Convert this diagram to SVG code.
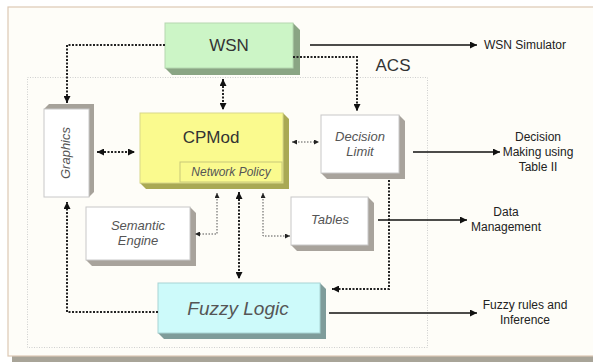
<svg xmlns="http://www.w3.org/2000/svg" width="593" height="362" viewBox="0 0 593 362">
<defs>
<marker id="ah" viewBox="0 0 10 10" refX="10" refY="5" markerWidth="9" markerHeight="7" markerUnits="userSpaceOnUse" orient="auto-start-reverse">
<path d="M0,0 L10,5 L0,10 z" fill="#111"/>
</marker>
<marker id="ahs" viewBox="0 0 10 10" refX="10" refY="5" markerWidth="7" markerHeight="5" markerUnits="userSpaceOnUse" orient="auto-start-reverse">
<path d="M0,0 L10,5 L0,10 z" fill="#222"/>
</marker>
</defs>
<style>
.t{font-family:"Liberation Sans",Arial,sans-serif;fill:#333;text-anchor:middle}
.i{font-style:italic;fill:#555}
.lab{font-family:"Liberation Sans",Arial,sans-serif;fill:#222;font-size:12px;text-anchor:middle}
.thick{fill:none;stroke:#222;stroke-width:2;stroke-dasharray:2,1.5}
.thin{fill:none;stroke:#555;stroke-width:1;stroke-dasharray:1.5,1.5}
.solid{fill:none;stroke:#111;stroke-width:1.6}
</style>
<rect x="0" y="0" width="593" height="362" fill="#ffffff"/>
<rect x="12" y="12" width="585" height="350" fill="#a8a498"/>
<rect x="8" y="7" width="590" height="349" fill="#fefdf8" stroke="#dcc8b4" stroke-width="1.2"/>
<rect x="27.5" y="77.5" width="400" height="270" fill="none" stroke="#cfcfcf" stroke-width="1" stroke-dasharray="1,1.5"/>
<text class="t" x="393" y="71" font-size="17">ACS</text>

<g id="wsn">
<polygon points="293,23 300,30 300,75 172,75 165,68" fill="#8aa584"/>
<rect x="165" y="23" width="128" height="45" fill="#ccf5c6" stroke="#b5d8b0" stroke-width="1"/>
<text class="t" x="229" y="51" font-size="17">WSN</text>
</g>

<g id="graphics">
<polygon points="44,109 49,104 94,104 94,192 89,197" fill="#a6a29a"/>
<rect x="44" y="109" width="45" height="88" fill="#ffffff" stroke="#c8c8c8" stroke-width="1"/>
<text class="t i" transform="translate(70,153) rotate(-90)" font-size="13">Graphics</text>
</g>

<g id="cpmod">
<polygon points="283,113 289,119 289,189 146,189 140,183" fill="#a9a954"/>
<rect x="140" y="113" width="143" height="70" fill="#fafa8e" stroke="#d8d88a" stroke-width="1"/>
<text class="t" x="211" y="143" font-size="17">CPMod</text>
<rect x="180" y="162" width="102" height="20" fill="#fafa8e" stroke="#c8c878" stroke-width="1"/>
<text class="t i" x="231" y="176" font-size="12">Network Policy</text>
</g>

<g id="decision">
<polygon points="399,115 405,121 405,179 327,179 321,173" fill="#a8a39c"/>
<rect x="321" y="115" width="78" height="58" fill="#ffffff" stroke="#c8c8c8" stroke-width="1"/>
<text class="t i" x="360" y="141" font-size="13">Decision</text>
<text class="t i" x="360" y="156" font-size="13">Limit</text>
</g>

<g id="tables">
<polygon points="368,197 374,203 374,251 297,251 291,245" fill="#a8a39c"/>
<rect x="291" y="197" width="77" height="48" fill="#ffffff" stroke="#c8c8c8" stroke-width="1"/>
<text class="t i" x="330" y="224" font-size="13">Tables</text>
</g>

<g id="semantic">
<polygon points="190,207 196,213 196,266 92,266 86,260" fill="#a8a39c"/>
<rect x="86" y="207" width="104" height="53" fill="#ffffff" stroke="#c8c8c8" stroke-width="1"/>
<text class="t i" x="138" y="230" font-size="13">Semantic</text>
<text class="t i" x="138" y="245" font-size="13">Engine</text>
</g>

<g id="fuzzy">
<polygon points="320,283 326,289 326,339 164,339 158,333" fill="#7f9c9a"/>
<rect x="158" y="283" width="162" height="50" fill="#cdfafa" stroke="#a8d4d4" stroke-width="1"/>
<text class="t i" x="238" y="315" font-size="19">Fuzzy Logic</text>
</g>

<g id="connectors">
<path class="thick" d="M165,45 H67 V103" marker-end="url(#ah)"/>
<path class="thick" d="M223,79 V110" marker-start="url(#ah)" marker-end="url(#ah)"/>
<path class="thick" d="M293,57 H357 V111" marker-end="url(#ah)"/>
<path class="thick" d="M97,152 H135" marker-start="url(#ah)" marker-end="url(#ah)"/>
<path class="thin" d="M292,142 H319" marker-start="url(#ahs)" marker-end="url(#ahs)"/>
<path class="thick" d="M389,180 V289 H332" marker-end="url(#ah)"/>
<path class="thick" d="M158,312 H67 V202" marker-end="url(#ah)"/>
<path class="thick" d="M239,192 V279" marker-start="url(#ah)" marker-end="url(#ah)"/>
<path class="thin" d="M217,193 V234 H195" marker-start="url(#ahs)" marker-end="url(#ahs)"/>
<path class="thin" d="M263,193 V236 H290" marker-start="url(#ahs)" marker-end="url(#ahs)"/>
<path class="solid" d="M310,45 H477" marker-end="url(#ah)"/>
<path class="solid" d="M413,152 H500" marker-end="url(#ah)"/>
<path class="solid" d="M378,220 H467" marker-end="url(#ah)"/>
<path class="solid" d="M329,313 H477" marker-end="url(#ah)"/>
</g>
<text class="lab" x="525" y="49" font-size="12">WSN Simulator</text>
<text class="lab" x="538" y="141">Decision</text>
<text class="lab" x="538" y="156">Making using</text>
<text class="lab" x="538" y="171">Table II</text>
<text class="lab" x="506" y="216">Data</text>
<text class="lab" x="506" y="231">Management</text>
<text class="lab" x="525" y="309">Fuzzy rules and</text>
<text class="lab" x="525" y="324">Inference</text>
</svg>
